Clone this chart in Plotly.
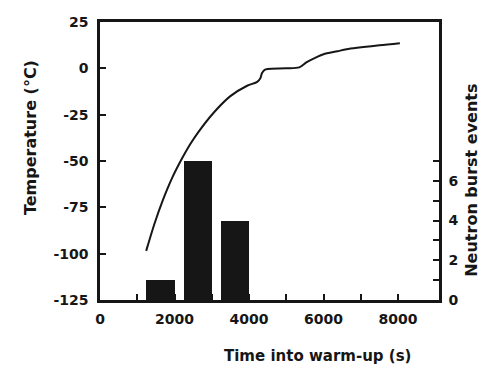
import plotly.graph_objects as go

# Temperature curve (left axis)
time_s = [1240, 1460, 1690, 1940, 2200, 2420, 2640, 3080, 3500, 3950, 4220, 4300, 4350,
          4420, 4500, 5000, 5350, 5550, 5830, 6000, 6370, 6620, 7500, 8050]
temp_c = [-98.5, -84, -71, -59, -48.7, -41, -34.4, -23.3, -15, -9.4, -7.3, -5.5, -2.5,
          -0.8, -0.3, 0, 0.5, 3.3, 6.2, 7.6, 9.2, 10.3, 12.4, 13.5]

# Neutron burst events (right axis)
bar_time = [1620, 2630, 3620]
bar_events = [1, 7, 4]

x_tickvals = [0, 1000, 2000, 3000, 4000, 5000, 6000, 7000, 8000]
x_ticktext = ["0", "", "2000", "", "4000", "", "6000", "", "8000"]
y_tickvals = [25, 0, -25, -50, -75, -100, -125]
y_ticktext = ["25", "0", "-25", "-50", "-75", "-100", "-125"]
y2_tickvals = [0, 1, 2, 3, 4, 5, 6, 7]
y2_ticktext = ["0", "", "2", "", "4", "", "6", ""]

INK = "#161616"
FONT = "DejaVu Sans"

fig = go.Figure()
fig.add_trace(go.Bar(x=bar_time, y=bar_events, width=760, yaxis="y2",
                     marker=dict(color=INK, line=dict(width=0)), showlegend=False))
fig.add_trace(go.Scatter(x=time_s, y=temp_c, mode="lines", yaxis="y",
                         line=dict(color=INK, width=2, shape="spline", smoothing=0.8),
                         showlegend=False))

axis_common = dict(showline=True, linecolor=INK, linewidth=2.5, ticks="inside",
                   tickcolor=INK, tickwidth=2, ticklen=6, showgrid=False, zeroline=False,
                   tickfont=dict(family=FONT, size=14, color=INK, weight="bold"))

fig.update_layout(
    width=487, height=368,
    margin=dict(l=100, r=48, t=22, b=68),
    paper_bgcolor="white", plot_bgcolor="white",
    bargap=0,
    xaxis=dict(range=[0, 9100], tickmode="array", tickvals=x_tickvals,
               ticktext=x_ticktext, mirror=True, ticklabelstandoff=4, **axis_common),
    yaxis=dict(range=[-125, 25], tickmode="array", tickvals=y_tickvals,
               ticktext=y_ticktext, mirror=True, ticklabelstandoff=6, **axis_common),
    yaxis2=dict(range=[0, 14], overlaying="y", side="right", tickmode="array",
                tickvals=y2_tickvals, ticktext=y2_ticktext, ticklabelstandoff=4,
                **axis_common),
    annotations=[
        dict(text="Time into warm-up (s)", xref="paper", yref="paper", x=0.643, y=-0.201,
             showarrow=False, xanchor="center", yanchor="middle",
             font=dict(family=FONT, size=15, color=INK, weight="bold")),
        dict(text="Temperature (°C)", xref="paper", yref="paper", x=-0.2065, y=0.586,
             showarrow=False, textangle=-90, xanchor="center", yanchor="middle",
             font=dict(family=FONT, size=16, color=INK, weight="bold")),
        dict(text="Neutron burst events", xref="paper", yref="paper", x=1.097, y=0.432,
             showarrow=False, textangle=-90, xanchor="center", yanchor="middle",
             font=dict(family=FONT, size=16, color=INK, weight="bold")),
    ],
)

fig.write_html("out.html")
